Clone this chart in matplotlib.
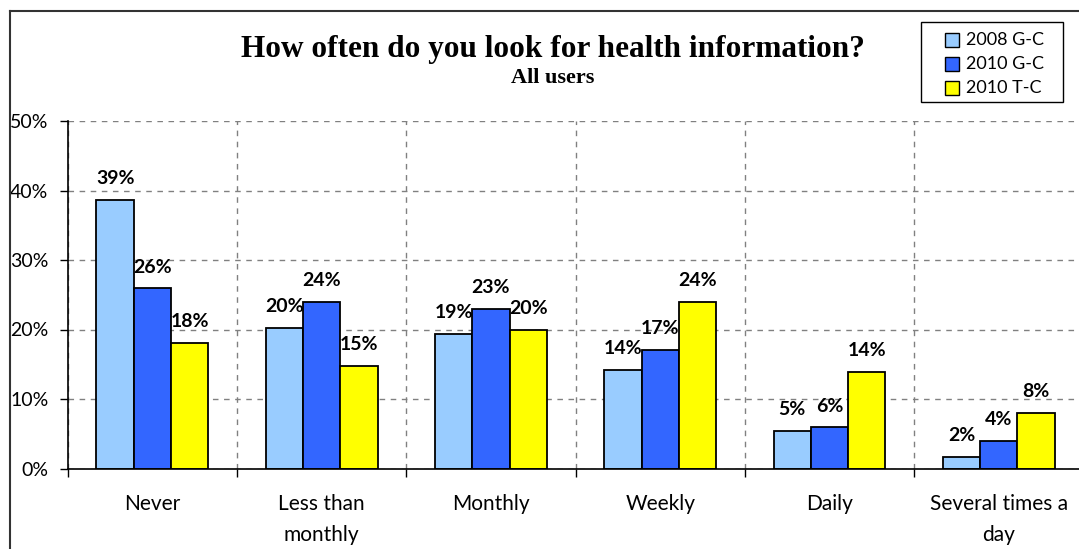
import numpy as np
import matplotlib
matplotlib.use("Agg")
import matplotlib.pyplot as plt
from matplotlib.patches import Rectangle
from matplotlib.lines import Line2D
from matplotlib.ticker import FuncFormatter, MultipleLocator

plt.rcParams['font.family'] = ['Lato', 'DejaVu Sans']

# data (percent)
categories = ['Never', 'Less than\nmonthly', 'Monthly', 'Weekly', 'Daily', 'Several times a\nday']
series_names = ['2008 G-C', '2010 G-C', '2010 T-C']
gc_2008 = [38.6, 20.2, 19.3, 14.2, 5.4, 1.7]
gc_2010 = [25.9, 24.0, 22.9, 17.0, 5.9, 4.0]
tc_2010 = [18.0, 14.8, 20.0, 24.0, 13.9, 8.0]
colors = ['#99CCFF', '#3366FF', '#FFFF00']

W, H = 1079, 549
fig = plt.figure(figsize=(W / 100, H / 100), dpi=100)
ax = fig.add_axes([67.7 / W, (H - 468.5) / H, 6 * 169.3 / W, (468.5 - 121) / H])

x = np.arange(len(categories)) + 0.5
barWidth = 0.22
for i, (vals, c) in enumerate(zip([gc_2008, gc_2010, tc_2010], colors)):
    pos = x + (i - 1) * barWidth
    ax.bar(pos, vals, width=barWidth, color=c, edgecolor='black', linewidth=1.3, zorder=3)
    for px, v in zip(pos, vals):
        ax.annotate(f'{v:.0f}%', (px, v), xytext=(0, 11.5), textcoords='offset points',
                    ha='center', va='baseline', fontsize=14, fontweight='bold', zorder=4)

ax.set_xlim(0, 6)
ax.set_ylim(0, 50)
ax.yaxis.set_major_locator(MultipleLocator(10))
ax.yaxis.set_major_formatter(FuncFormatter(lambda v, p: f'{v:.0f}%'))
ax.set_xticks(x)
ax.set_xticklabels(categories, fontsize=15, linespacing=1.7)
ax.set_xticks(np.arange(0, 7), minor=True)
ax.tick_params(axis='x', which='major', length=0, pad=18)
ax.tick_params(axis='x', which='minor', length=6, width=1, direction='out')
ax.tick_params(axis='y', length=6, width=1, direction='out', pad=8, labelsize=14)

ax.grid(axis='y', which='major', color='#808080', linestyle=(0, (4, 4)), linewidth=1, zorder=0)
ax.grid(axis='x', which='minor', color='#808080', linestyle=(0, (4, 4)), linewidth=1, zorder=0)
ax.grid(axis='x', which='major', visible=False)

for s in ['top', 'right']:
    ax.spines[s].set_visible(False)
for s in ['left', 'bottom']:
    ax.spines[s].set_color('black')
    ax.spines[s].set_linewidth(1.2)
    ax.spines[s].set_zorder(5)

def fx(px):
    return px / W
def fy(py):
    return 1 - py / H

# title
fig.text(fx(553), fy(57), 'How often do you look for health information?',
         ha='center', va='baseline', fontsize=22.5, fontweight='bold', family='Liberation Serif')
fig.text(fx(553), fy(83), 'All users',
         ha='center', va='baseline', fontsize=16, fontweight='bold', family='Liberation Serif')

# legend box (drawn in figure pixels)
fig.add_artist(Rectangle((fx(920.7), fy(101.7)), (1062.7 - 920.7) / W, 80 / H,
                         transform=fig.transFigure, facecolor='white', edgecolor='black',
                         linewidth=1, zorder=5))
for k, (name, c) in enumerate(zip(series_names, colors)):
    cy = 40 + 24 * k
    fig.add_artist(Rectangle((fx(945), fy(cy + 7)), 14 / W, 14 / H, transform=fig.transFigure,
                             facecolor=c, edgecolor='black', linewidth=1, zorder=6))
    fig.text(fx(966), fy(cy), name, ha='left', va='center', fontsize=13, zorder=6)

# outer chart border (top and left edges visible)
fig.add_artist(Line2D([fx(9.5), 1], [fy(10.7), fy(10.7)], transform=fig.transFigure,
                      color='#333333', linewidth=1.5))
fig.add_artist(Line2D([fx(9.5), fx(9.5)], [0, fy(10.7)], transform=fig.transFigure,
                      color='#333333', linewidth=1.5))

fig.savefig('out.png', dpi=100)
